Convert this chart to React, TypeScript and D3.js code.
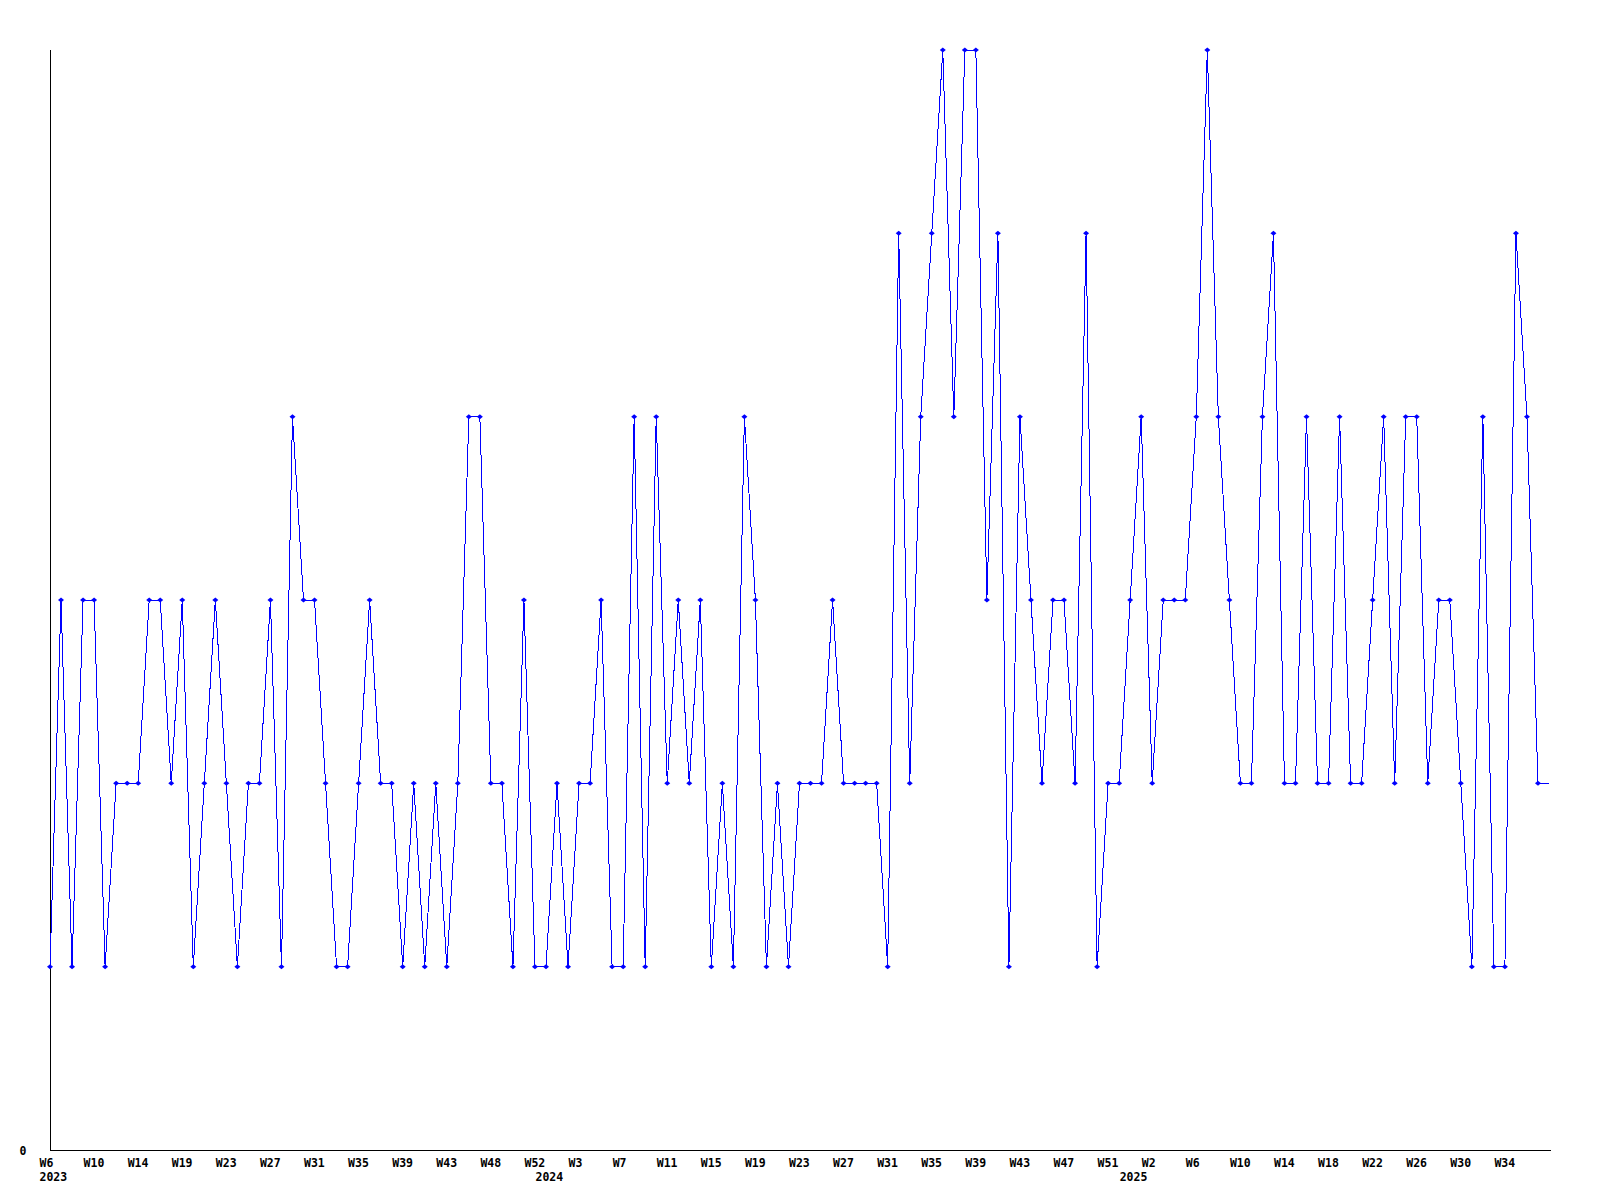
import React, { useEffect, useRef } from 'react'
import * as d3 from 'd3'

// weekly counts, 2023 W6 .. 2025 (last point is the running week, drawn without a marker)
const counts2023 = [1, 3, 1, 3, 3, 1, 2, 2, 2, 3, 3, 2, 3, 1, 2, 3, 2, 1, 2, 2, 3, 1, 4, 3, 3, 2, 1, 1, 2, 3, 2, 2, 1, 2, 1, 2, 1]
const counts2024a = [2, 4, 4, 2, 2, 1, 3, 1, 1, 2, 1, 2, 2, 3, 1, 1, 4, 1, 4, 2, 3, 2, 3, 1, 2, 1, 4, 3, 1, 2, 1, 2, 2, 2, 3, 2]
const counts2024b = [2, 2, 2, 1, 5, 2, 4, 5, 6, 4, 6, 6, 3, 5, 1, 4, 3, 2, 3, 3, 2, 5, 1, 2, 2, 3, 4, 2, 3, 3, 3, 4, 6, 4, 3, 2]
const counts2025 = [2, 4, 5, 2, 2, 4, 2, 2, 4, 2, 2, 3, 4, 2, 4, 4, 2, 3, 3, 2, 1, 4, 1, 1, 5, 4, 2, 2]

const weekTicks = [
  'W6', 'W10', 'W14', 'W19', 'W23', 'W27', 'W31', 'W35', 'W39', 'W43', 'W48', 'W52',
  'W3', 'W7', 'W11', 'W15', 'W19', 'W23', 'W27', 'W31', 'W35', 'W39', 'W43', 'W47', 'W51',
  'W2', 'W6', 'W10', 'W14', 'W18', 'W22', 'W26', 'W30', 'W34',
]
const tickStep = 4

const yearLabels = ['2023', '2024', '2025']
const yearStartIndex = [0, 45, 98]

const yMax = 6

const App: React.FC = () => {
  const svgRef = useRef<SVGSVGElement>(null)

  useEffect(() => {
    if (!svgRef.current) return
    const data = [...counts2023, ...counts2024a, ...counts2024b, ...counts2025]

    const width = 1600
    const height = 1200
    const left = 50
    const top = 50
    const bottom = 1150
    const right = 1551
    const font = '"DejaVu Sans Mono", monospace'

    const x = d3.scaleLinear().domain([0, data.length - 1]).range([left, 1549])
    const y = d3.scaleLinear().domain([0, yMax]).range([bottom, top])

    const svg = d3.select(svgRef.current)
    svg.selectAll('*').remove()
    svg.attr('width', width).attr('height', height)

    svg.append('rect').attr('width', width).attr('height', height).attr('fill', '#ffffff')

    // axes
    svg.append('line')
      .attr('x1', left + 0.5).attr('x2', left + 0.5)
      .attr('y1', top).attr('y2', bottom + 1)
      .attr('stroke', '#000').attr('stroke-width', 1)
      .attr('shape-rendering', 'crispEdges')
    svg.append('line')
      .attr('x1', left).attr('x2', right)
      .attr('y1', bottom + 0.5).attr('y2', bottom + 0.5)
      .attr('stroke', '#000').attr('stroke-width', 1)
      .attr('shape-rendering', 'crispEdges')

    svg.append('text')
      .attr('x', 26.5)
      .attr('y', y(0) + 5)
      .attr('text-anchor', 'end')
      .attr('font-family', font)
      .attr('font-weight', 'bold')
      .attr('font-size', 11.5)
      .attr('fill', '#000')
      .text('0')

    // week ticks
    svg.append('g')
      .selectAll('text')
      .data(weekTicks)
      .join('text')
      .attr('x', (_, i) => x(i * tickStep) - 10.5)
      .attr('y', 1167)
      .attr('font-family', font)
      .attr('font-weight', 'bold')
      .attr('font-size', 11.5)
      .attr('fill', '#000')
      .text((d) => d)

    // years
    svg.append('g')
      .selectAll('text')
      .data(yearLabels)
      .join('text')
      .attr('x', (_, i) => x(yearStartIndex[i]) - 10.5)
      .attr('y', 1181)
      .attr('font-family', font)
      .attr('font-weight', 'bold')
      .attr('font-size', 11.5)
      .attr('fill', '#000')
      .text((d) => d)

    const line = d3
      .line<number>()
      .x((_, i) => x(i))
      .y((d) => y(d))

    svg.append('path')
      .attr('d', line(data))
      .attr('fill', 'none')
      .attr('stroke', '#0000ff')
      .attr('stroke-width', 1)
      .attr('shape-rendering', 'crispEdges')

    // markers
    svg.append('g')
      .selectAll('path')
      .data(data.slice(0, -1))
      .join('path')
      .attr('d', (d, i) => {
        const cx = x(i)
        const cy = y(d)
        return `M${cx - 3},${cy} L${cx},${cy - 2.5} L${cx + 3},${cy} L${cx},${cy + 2.5} Z`
      })
      .attr('fill', '#0000ff')
  }, [])

  return (
    <div style={{ position: 'absolute', left: 0, top: 0 }}>
      <svg ref={svgRef} style={{ display: 'block' }}></svg>
    </div>
  )
}

export default App
